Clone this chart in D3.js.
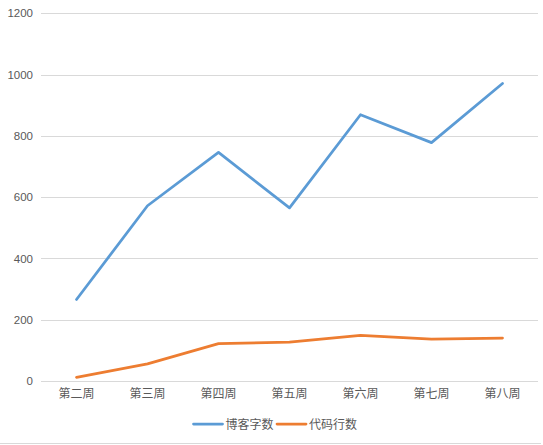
<!DOCTYPE html>
<html>
<head>
<meta charset="utf-8">
<script src="https://cdn.jsdelivr.net/npm/d3@7"></script>
<style>
html,body{margin:0;padding:0;background:#fff;}
svg{display:block;}
text{font-family:"Microsoft YaHei","Noto Sans CJK SC","DejaVu Sans",sans-serif;fill:#595959;}
</style>
</head>
<body>
<svg id="chart" width="543" height="445"></svg>
<script>
const categories = ["第二周","第三周","第四周","第五周","第六周","第七周","第八周"];
const blogWords = [266, 572, 746, 565, 869, 778, 971];
const codeLines = [12, 56, 122, 127, 149, 137, 140];
const seriesNames = ["博客字数","代码行数"];
const yTicks = [0, 200, 400, 600, 800, 1000, 1200];
const colors = ["#5B9BD5","#ED7D31"];

(function () {
const svg = d3.select("#chart");
const plotLeft = 41, plotRight = 538, plotTop = 13.3, plotBottom = 381;

const x = d3.scaleBand().domain(categories).range([plotLeft, plotRight]);
const y = d3.scaleLinear().domain([0, 1200]).range([plotBottom, plotTop]);

// gridlines
svg.append("g").selectAll("line").data(yTicks).join("line")
  .attr("x1", plotLeft).attr("x2", plotRight)
  .attr("y1", d => Math.round(y(d)) + 0.5).attr("y2", d => Math.round(y(d)) + 0.5)
  .attr("stroke", "#D9D9D9").attr("stroke-width", 1);

// y axis labels
const yAxis = d3.axisLeft(y).tickValues(yTicks).tickFormat(d3.format("d")).tickSize(0).tickPadding(0);
const gy = svg.append("g").attr("transform", "translate(33,0)").call(yAxis);
gy.select(".domain").remove();
gy.selectAll("text").attr("font-size", 11.5).style("font-family", "'Liberation Sans',Arial,sans-serif").attr("fill", "#595959");

// x axis labels
const xAxis = d3.axisBottom(x).tickSize(0).tickPadding(0);
const gx = svg.append("g").attr("transform", "translate(0,389)").call(xAxis);
gx.select(".domain").remove();
gx.selectAll("text").attr("font-size", 12).attr("fill", "#595959");

const series = [blogWords, codeLines];
const line = d3.line()
  .x((d, i) => x(categories[i]) + x.bandwidth() / 2)
  .y(d => y(d));

series.forEach((s, k) => {
  svg.append("path").datum(s)
    .attr("d", line)
    .attr("fill", "none")
    .attr("stroke", colors[k])
    .attr("stroke-width", 2.75)
    .attr("stroke-linejoin", "round")
    .attr("stroke-linecap", "round");
});

// legend
const legend = svg.append("g");
const legendItems = [{x: 193.5, name: seriesNames[0], c: colors[0]}, {x: 277, name: seriesNames[1], c: colors[1]}];
legendItems.forEach(it => {
  legend.append("line").attr("x1", it.x).attr("x2", it.x + 29)
    .attr("y1", 424).attr("y2", 424)
    .attr("stroke", it.c).attr("stroke-width", 2.75).attr("stroke-linecap", "round");
  legend.append("text").attr("x", it.x + 32).attr("y", 428.5)
    .attr("font-size", 12).text(it.name);
});

// bottom border
svg.append("line").attr("x1", 0).attr("x2", 541).attr("y1", 443.5).attr("y2", 443.5)
  .attr("stroke", "#D9D9D9").attr("stroke-width", 1);
})();
</script>
</body>
</html>
